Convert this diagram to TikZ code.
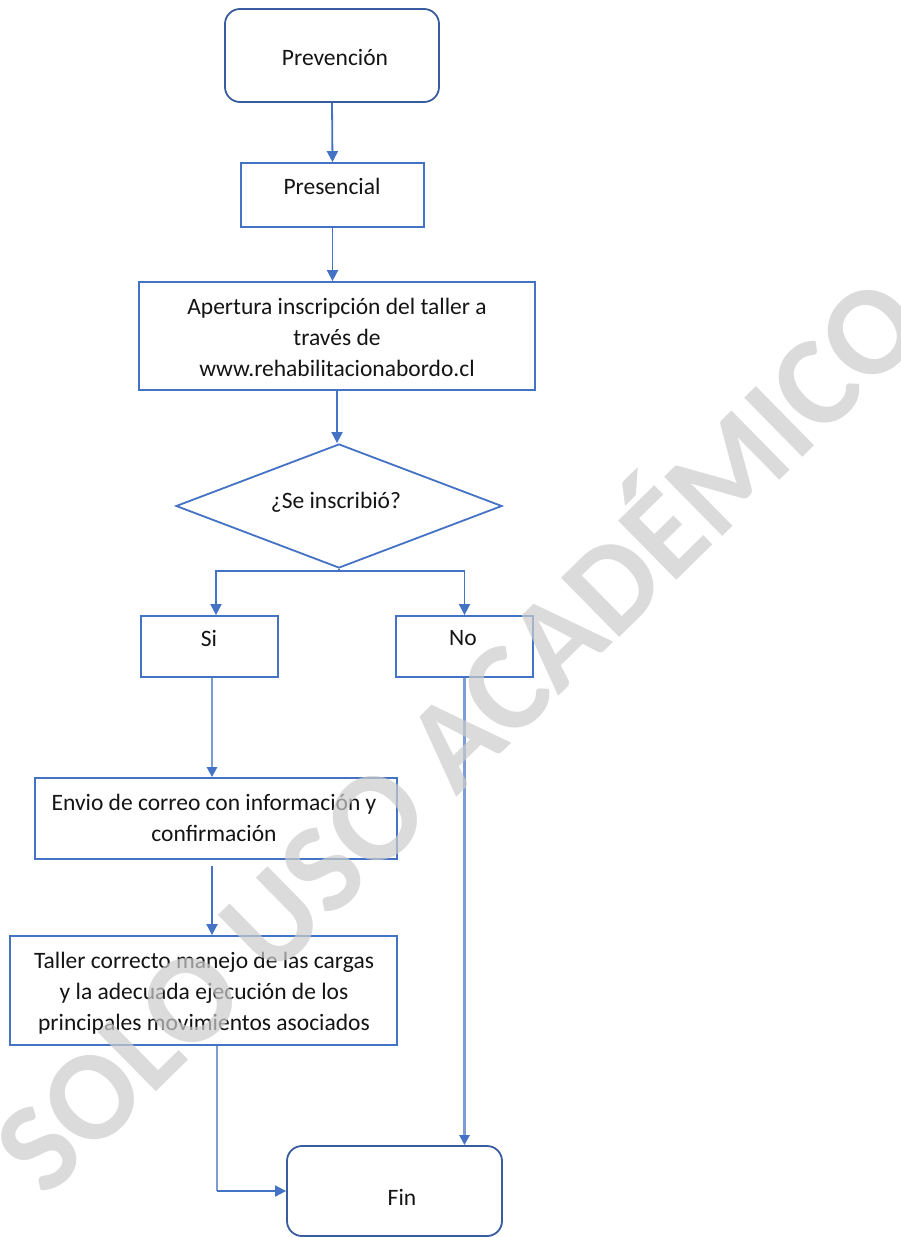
\documentclass[tikz,border=0pt]{standalone}
\usepackage{fontspec}
\setmainfont{Carlito}
\usetikzlibrary{arrows.meta,shapes.geometric,calc}
\definecolor{cblue}{RGB}{68,114,196}
\definecolor{rblue}{RGB}{56,92,158}
\definecolor{ctext}{RGB}{20,20,20}
\begin{document}
\begin{tikzpicture}[x=1pt,y=-1pt,
  box/.style={draw=cblue, line width=1.8pt, inner sep=0pt},
  rbox/.style={draw=rblue, line width=1.8pt, rounded corners=15pt, inner sep=0pt},
  dbox/.style={diamond, draw=cblue, line width=1.8pt, inner sep=0pt},
  txt/.style={font=\fontsize{23.5}{31}\selectfont, text=ctext, align=center, inner sep=0pt},
  arr/.style={draw=cblue, line width=1.8pt, -{Triangle[length=11pt,width=11pt]}},
  softarr/.style={draw=cblue!70, line width=2.6pt, -{Triangle[length=10pt,width=10pt,color=cblue]}},
  softline/.style={draw=cblue!70, line width=2.6pt},
  wmark/.style={font=\fontsize{128}{128}\selectfont\bfseries, text=black!20, text opacity=0.7, inner sep=0pt}
]
\useasboundingbox[fill=white] (0,0) rectangle (901,1237);

% boxes
\node[rbox, minimum width=214pt, minimum height=93pt] (prev) at (332,55.5) {};
\node[box, minimum width=183pt, minimum height=64pt] (pres) at (332.5,195) {};
\node[box, minimum width=396pt, minimum height=108pt] (ap) at (337,336) {};
\node[dbox, minimum width=326pt, minimum height=124pt] (dec) at (339,506) {};
\node[box, minimum width=137pt, minimum height=61pt] (si) at (209.5,646.5) {};
\node[box, minimum width=137pt, minimum height=61pt] (no) at (464.5,646.5) {};
\node[box, minimum width=362pt, minimum height=81pt] (env) at (216,818.5) {};
\node[box, minimum width=387pt, minimum height=109pt] (tal) at (203.5,990.5) {};
\node[rbox, minimum width=215pt, minimum height=90pt] (fin) at (394.5,1191) {};

% texts
\node[txt] (prevT) at (335,57) {Prevención};
\node[txt] (presT) at (332,186) {Presencial};
\node[txt] (apT) at (337,337) {Apertura inscripción del taller a\\ través de\\ www.rehabilitacionabordo.cl};
\node[txt] (decT) at (336,502) {¿Se inscribió?};
\node[txt] (siT) at (209,638) {Si};
\node[txt] (noT) at (463,638) {No};
\node[txt] (envT) at (214,818) {Envio de correo con información y\\ confirmación};
\node[txt] (talT) at (204,993) {Taller correcto manejo de las cargas\\ y la adecuada ejecución de los\\ principales movimientos asociados};
\node[txt] (finT) at (402,1197) {Fin};

% connectors
\draw[arr] (prev.south) -- (pres.north);
\draw[arr] (pres.south) -- (pres.south |- ap.north);
\draw[arr] (ap.south) -- (ap.south |- dec.north);
\draw[arr] (dec.south) -- ++(0,2) -| ([xshift=6.5pt]si.north);
\draw[arr] (dec.south) -- ++(0,2) -| (no.north);
\draw[softarr] ([xshift=2.5pt]si.south) -- ([xshift=2.5pt]si.south |- env.north);
\draw[arr] ([shift={(-4pt,-6pt)}]env.south) -- ([xshift=-4pt]env.south |- tal.north);
\coordinate (bend) at ([xshift=13.5pt]tal.south |- fin.west);
\draw[softline] ([xshift=13.5pt]tal.south) -- (bend);
\draw[arr] (bend) -- (fin.west);
\draw[softarr] (no.south) -- (no.south |- fin.north);

% watermark
\node[wmark, rotate=44.5] (wm) at (451,728) {SOLO USO ACADÉMICO};
\end{tikzpicture}
\end{document}
